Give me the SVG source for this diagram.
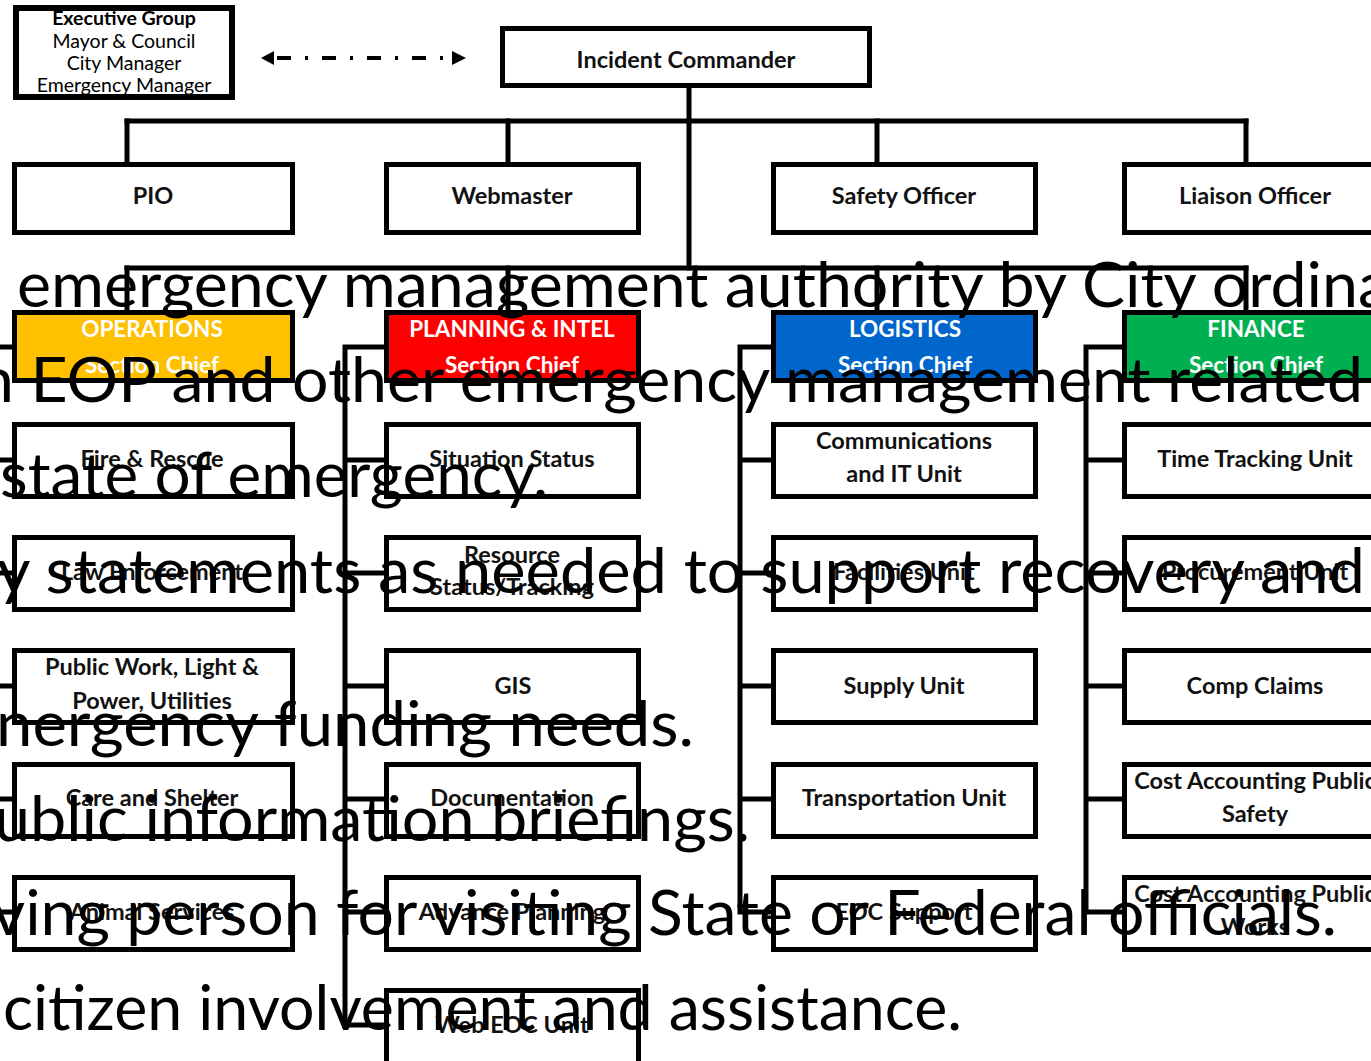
<svg xmlns="http://www.w3.org/2000/svg" width="1371" height="1061" viewBox="0 0 1371 1061">
<style>
.box{fill:#fff;stroke:#000;stroke-width:5}
.ln{stroke:#000;stroke-width:5;fill:none;stroke-linecap:square}
.lbl{font-family:Lato,"Open Sans",sans-serif;font-weight:bold;font-size:23.5px;fill:#111;text-anchor:middle}
.hdr{font-family:Lato,"Open Sans",sans-serif;font-weight:bold;font-size:22.5px;fill:#fff;text-anchor:middle}
.ex{font-family:Lato,"Open Sans",sans-serif;font-size:19.5px;fill:#000;text-anchor:middle}
.big{font-family:Lato,"Open Sans",sans-serif;font-size:61px;fill:#000}
</style>
<rect width="1371" height="1061" fill="#fff"/>
<g id="connectors">
<line class="ln" x1="689" y1="88" x2="689" y2="268"/>
<line class="ln" x1="127" y1="121" x2="1246" y2="121"/>
<line class="ln" x1="127" y1="121" x2="127" y2="162"/>
<line class="ln" x1="508" y1="121" x2="508" y2="162"/>
<line class="ln" x1="877" y1="121" x2="877" y2="162"/>
<line class="ln" x1="1246" y1="121" x2="1246" y2="162"/>
<line class="ln" x1="127" y1="268" x2="1246" y2="268"/>
<line class="ln" x1="127" y1="268" x2="127" y2="310"/>
<line class="ln" x1="508" y1="268" x2="508" y2="310"/>
<line class="ln" x1="877" y1="268" x2="877" y2="310"/>
<line class="ln" x1="1246" y1="268" x2="1246" y2="310"/>
<path class="ln" d="M-3 347V912M-3 347H12M-3 460H12M-3 573H12M-3 686H12M-3 799H12M-3 912H12"/>
<path class="ln" d="M345 347V1025M345 347H384M345 460H384M345 573H384M345 686H384M345 799H384M345 912H384M345 1025H384"/>
<path class="ln" d="M740 347V912M740 347H771M740 460H771M740 573H771M740 686H771M740 799H771M740 912H771"/>
<path class="ln" d="M1086 347V912M1086 347H1122M1086 460H1122M1086 573H1122M1086 686H1122M1086 799H1122M1086 912H1122"/>
<line x1="277" y1="58" x2="448" y2="58" stroke="#000" stroke-width="4" stroke-dasharray="14 14 3 14"/>
<polygon points="261,58 274,51 274,65" fill="#000"/>
<polygon points="466,58 452,51 452,65" fill="#000"/>
</g>
<g id="executive">
<rect x="16" y="8" width="216" height="89" fill="#fff" stroke="#000" stroke-width="6"/>
<text class="ex" x="124" y="25" font-weight="bold" font-size="21">Executive Group</text>
<text class="ex" x="124" y="48">Mayor &amp; Council</text>
<text class="ex" x="124" y="70">City Manager</text>
<text class="ex" x="124" y="92">Emergency Manager</text>
</g>
<g id="incident-commander">
<rect class="box" x="502.5" y="28.5" width="367" height="57"/>
<text class="lbl" x="686" y="68">Incident Commander</text>
</g>
<g id="pio"><rect class="box" x="14.5" y="164.5" width="278" height="68"/><text class="lbl" x="153" y="204">PIO</text></g>
<g id="webmaster"><rect class="box" x="386.5" y="164.5" width="252" height="68"/><text class="lbl" x="512" y="204">Webmaster</text></g>
<g id="safety"><rect class="box" x="773.5" y="164.5" width="262" height="68"/><text class="lbl" x="904" y="204">Safety Officer</text></g>
<g id="liaison"><rect class="box" x="1124.5" y="164.5" width="263" height="68"/><text class="lbl" x="1255" y="204">Liaison Officer</text></g>
<g id="operations"><rect class="box" x="14.5" y="312.5" width="278" height="68" style="fill:#FFC000"/><text class="hdr" x="152" y="337">OPERATIONS</text><text class="hdr" x="152" y="373">Section Chief</text></g>
<g id="planning"><rect class="box" x="386.5" y="312.5" width="252" height="68" style="fill:#FF0000"/><text class="hdr" x="512" y="337">PLANNING &amp; INTEL</text><text class="hdr" x="512" y="373">Section Chief</text></g>
<g id="logistics"><rect class="box" x="773.5" y="312.5" width="262" height="68" style="fill:#0066CC"/><text class="hdr" x="905" y="337">LOGISTICS</text><text class="hdr" x="905" y="373">Section Chief</text></g>
<g id="finance"><rect class="box" x="1124.5" y="312.5" width="263" height="68" style="fill:#00B050"/><text class="hdr" x="1256" y="337">FINANCE</text><text class="hdr" x="1256" y="373">Section Chief</text></g>
<g id="fire"><rect class="box" x="14.5" y="424.5" width="278" height="72"/><text class="lbl" x="152" y="467">Fire &amp; Rescue</text></g>
<g id="law"><rect class="box" x="14.5" y="537.5" width="278" height="72"/><text class="lbl" x="152" y="580">Law Enforcement</text></g>
<g id="publicworks"><rect class="box" x="14.5" y="650.5" width="278" height="72"/><text class="lbl" x="152" y="675">Public Work, Light &amp;</text><text class="lbl" x="152" y="709">Power, Utilities</text></g>
<g id="care"><rect class="box" x="14.5" y="764.5" width="278" height="72"/><text class="lbl" x="152" y="806">Care and Shelter</text></g>
<g id="animal"><rect class="box" x="14.5" y="877.5" width="278" height="72"/><text class="lbl" x="152" y="920">Animal Services</text></g>
<g id="situation"><rect class="box" x="386.5" y="424.5" width="252" height="72"/><text class="lbl" x="512" y="467">Situation Status</text></g>
<g id="resource"><rect class="box" x="386.5" y="537.5" width="252" height="72"/><text class="lbl" x="512" y="563">Resource</text><text class="lbl" x="512" y="595">Status/Tracking</text></g>
<g id="gis"><rect class="box" x="386.5" y="650.5" width="252" height="72"/><text class="lbl" x="513" y="694">GIS</text></g>
<g id="documentation"><rect class="box" x="386.5" y="764.5" width="252" height="72"/><text class="lbl" x="512" y="806">Documentation</text></g>
<g id="advance"><rect class="box" x="386.5" y="877.5" width="252" height="72"/><text class="lbl" x="512" y="920">Advance Planning</text></g>
<g id="webeoc"><rect class="box" x="386.5" y="990.5" width="252" height="80"/><text class="lbl" x="512" y="1033">Web EOC Unit</text></g>
<g id="comms"><rect class="box" x="773.5" y="424.5" width="262" height="72"/><text class="lbl" x="904" y="449">Communications</text><text class="lbl" x="904" y="482">and IT Unit</text></g>
<g id="facilities"><rect class="box" x="773.5" y="537.5" width="262" height="72"/><text class="lbl" x="904" y="580">Facilities Unit</text></g>
<g id="supply"><rect class="box" x="773.5" y="650.5" width="262" height="72"/><text class="lbl" x="904" y="694">Supply Unit</text></g>
<g id="transport"><rect class="box" x="773.5" y="764.5" width="262" height="72"/><text class="lbl" x="904" y="806">Transportation Unit</text></g>
<g id="eoc"><rect class="box" x="773.5" y="877.5" width="262" height="72"/><text class="lbl" x="904" y="920">EOC Support</text></g>
<g id="time"><rect class="box" x="1124.5" y="424.5" width="263" height="72"/><text class="lbl" x="1255" y="467">Time Tracking Unit</text></g>
<g id="procurement"><rect class="box" x="1124.5" y="537.5" width="263" height="72"/><text class="lbl" x="1255" y="580">Procurement Unit</text></g>
<g id="comp"><rect class="box" x="1124.5" y="650.5" width="263" height="72"/><text class="lbl" x="1255" y="694">Comp Claims</text></g>
<g id="costsafety"><rect class="box" x="1124.5" y="764.5" width="263" height="72"/><text class="lbl" x="1255" y="789">Cost Accounting Public</text><text class="lbl" x="1255" y="822">Safety</text></g>
<g id="costworks"><rect class="box" x="1124.5" y="877.5" width="263" height="72"/><text class="lbl" x="1255" y="902">Cost Accounting Public</text><text class="lbl" x="1255" y="935">Works</text></g>
<g id="overlay-text">
<text class="big" x="17" y="307" textLength="1373" lengthAdjust="spacingAndGlyphs">emergency management authority by City ordina</text>
<text class="big" x="-22" y="402" textLength="1385" lengthAdjust="spacingAndGlyphs">n EOP and other emergency management related</text>
<text class="big" x="0" y="497" textLength="548" lengthAdjust="spacingAndGlyphs">state of emergency.</text>
<text class="big" x="-3" y="593" textLength="1368" lengthAdjust="spacingAndGlyphs">y statements as needed to support recovery and</text>
<text class="big" x="-4" y="746" textLength="698" lengthAdjust="spacingAndGlyphs">nergency funding needs.</text>
<text class="big" x="-6" y="841" textLength="756" lengthAdjust="spacingAndGlyphs">ublic information briefings.</text>
<text class="big" x="-8" y="935" textLength="1345" lengthAdjust="spacingAndGlyphs">ving person for visiting State or Federal officials.</text>
<text class="big" x="3" y="1030" textLength="959" lengthAdjust="spacingAndGlyphs">citizen involvement and assistance.</text>
</g>
</svg>
